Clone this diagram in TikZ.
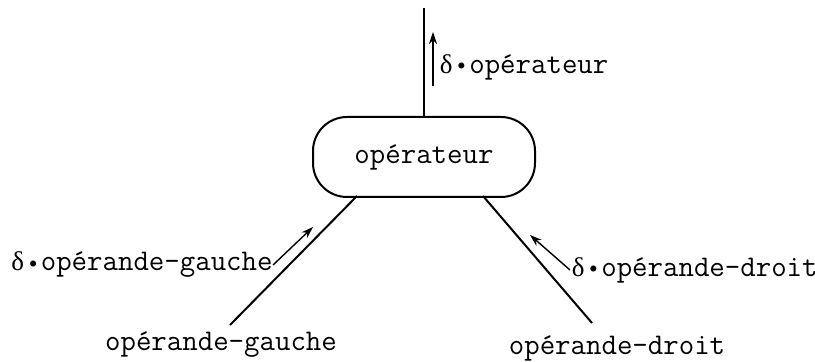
\documentclass[tikz,border=0pt]{standalone}
\usepackage{fontspec}
\usepackage{tikz}
\usetikzlibrary{arrows.meta}
\setmonofont{Latin Modern Mono}[Scale=1.5]
\newfontfamily\grk{Liberation Serif}[Scale=1.35]
\newcommand{\cel}[1]{\makebox[\fontcharwd\font`x]{#1}}
\newcommand{\dlt}{\cel{\grk δ}\cel{\raisebox{0.12em}{$\scriptstyle\bullet$}}}

\begin{document}
\begin{tikzpicture}[x=0.5pt, y=-0.5pt]
\tikzstyle{box}=[draw, line width=1pt, rounded corners=17pt, minimum width=111pt, minimum height=40pt, inner sep=0pt]
\tikzstyle{txt}=[font=\ttfamily, inner sep=0pt]
\tikzstyle{trait}=[line width=1pt]
\tikzstyle{fleche}=[line width=0.7pt, -{Stealth[length=6pt, width=4pt]}]
\useasboundingbox (0,0) rectangle (815,362);

\node[box, txt] (op) at (424,157) {\raisebox{-1.5pt}{opérateur}};
\node[txt, anchor=west] (dop) at (438,67) {\dlt opérateur};
\node[txt] (g) at (221,345) {opérande-gauche};
\node[txt] (d) at (617,348) {opérande-droit};
\node[txt, anchor=east] (dg) at (273,265) {\dlt opérande-gauche};
\node[txt, anchor=west] (dd) at (570,270) {\dlt opérande-droit};

\coordinate (haut) at (424,8);
\coordinate (gh) at (357,196);
\coordinate (gb) at (230,325);
\coordinate (dh) at (483,196);
\coordinate (db) at (592,323);
\coordinate (fb) at (433,86);
\coordinate (fh) at (433,32);
\coordinate (fg) at (313,227);
\coordinate (fd) at (530,235);

\draw[trait] (haut) -- (op.north);
\draw[trait] (gh) -- (gb);
\draw[trait] (dh) -- (db);

\draw[fleche] (fb) -- (fh);
\draw[fleche] (dg.east) -- (fg);
\draw[fleche] (dd.west) -- (fd);
\end{tikzpicture}
\end{document}
